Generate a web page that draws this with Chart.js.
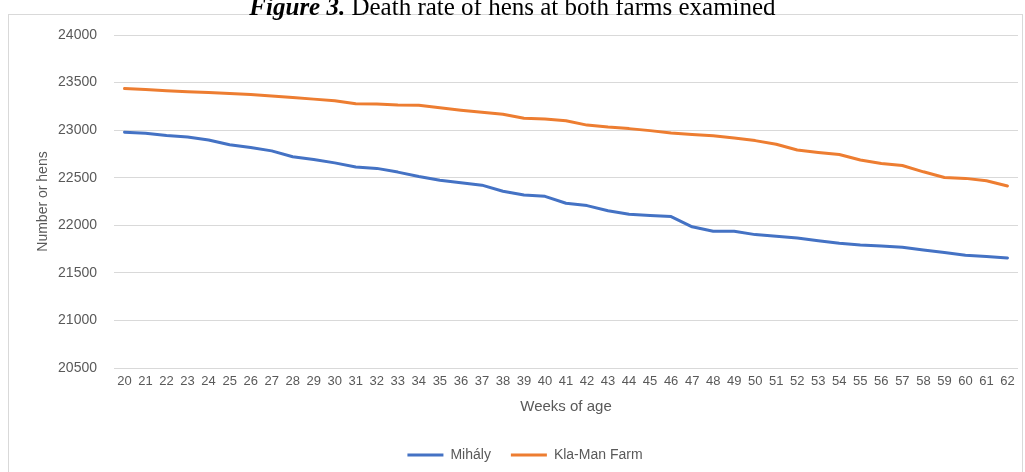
<!DOCTYPE html>
<html>
<head>
  <meta charset="UTF-8">
  <title>Death rate of hens</title>
  <script src="https://cdn.jsdelivr.net/npm/chart.js"></script>
  <style>
    body { margin: 0; width: 1025px; height: 472px; overflow: hidden; background: #fff; position: relative; }
    #box { position: absolute; left: 8px; top: 14px; width: 1013px; height: 470px; border: 1px solid #d9d9d9; }
    #wrap { position: absolute; left: 0; top: 0; width: 1025px; height: 472px; }
    #title { position: absolute; left: 0; top: -5px; width: 1025px; text-align: center;
             font: 25px/24px "Liberation Serif", serif; color: #000; z-index: 2; }
  </style>
</head>
<body>
<div id="box"></div>
<div id="title"><b><i>Figure 3.</i></b> Death rate of hens at both farms examined</div>
<div id="wrap"><canvas id="lineChart"></canvas></div>

<script>
  const weeks = ['20', '21', '22', '23', '24', '25', '26', '27', '28', '29', '30',
    '31', '32', '33', '34', '35', '36', '37', '38', '39', '40', '41', '42', '43',
    '44', '45', '46', '47', '48', '49', '50', '51', '52', '53', '54', '55', '56',
    '57', '58', '59', '60', '61', '62'];

  const mihaly = [22979, 22968, 22943, 22929, 22897, 22846, 22818, 22782, 22721, 22692,
    22656, 22613, 22598, 22559, 22512, 22473, 22448, 22422, 22358, 22318,
    22304, 22232, 22207, 22153, 22117, 22103, 22092, 21984, 21937, 21937,
    21902, 21884, 21866, 21837, 21812, 21794, 21783, 21768, 21740, 21714,
    21686, 21671, 21657];

  const klaMan = [23437, 23426, 23414, 23403, 23395, 23385, 23374, 23360, 23342, 23326,
    23310, 23278, 23275, 23264, 23261, 23236, 23210, 23188, 23168, 23125,
    23116, 23099, 23053, 23032, 23016, 22995, 22971, 22954, 22940, 22917,
    22890, 22852, 22792, 22766, 22744, 22687, 22650, 22628, 22562, 22503,
    22493, 22468, 22413];

  const grey = '#595959';

  // Excel centres the legend on the whole frame, nudge it to match
  const legendShift = {
    id: 'legendShift',
    afterLayout(chart) {
      chart.legend.left += 16;
      chart.legend.right += 16;
    }
  };

  new Chart(document.getElementById('lineChart'), {
    type: 'line',
    data: {
      labels: weeks,
      datasets: [
        {
          label: 'Mihály',
          data: mihaly,
          borderColor: '#4472C4',
          backgroundColor: '#4472C4',
          borderWidth: 3,
          pointRadius: 0,
          pointStyle: 'line',
          borderCapStyle: 'round',
          borderJoinStyle: 'round'
        },
        {
          label: 'Kla-Man Farm',
          data: klaMan,
          borderColor: '#ED7D31',
          backgroundColor: '#ED7D31',
          borderWidth: 3,
          pointRadius: 0,
          pointStyle: 'line',
          borderCapStyle: 'round',
          borderJoinStyle: 'round'
        }
      ]
    },
    options: {
      responsive: true,
      maintainAspectRatio: false,
      animation: false,
      layout: { padding: { left: 0, right: 7, top: 35, bottom: 0 } },
      plugins: {
        legend: {
          position: 'bottom',
          labels: {
            color: grey,
            font: { family: 'Liberation Sans', size: 14 },
            usePointStyle: true,
            pointStyleWidth: 36,
            padding: 20
          }
        },
        tooltip: { enabled: false }
      },
      scales: {
        x: {
          offset: true,
          grid: { display: false, drawTicks: false },
          border: { display: false },
          ticks: {
            color: grey,
            font: { family: 'Liberation Sans', size: 13 },
            autoSkip: false,
            maxRotation: 0,
            padding: 6
          },
          title: {
            display: true,
            text: 'Weeks of age',
            color: grey,
            font: { family: 'Liberation Sans', size: 15 },
            padding: { top: 0, bottom: 12 }
          },
          afterFit(scale) { scale.height = 60; }
        },
        y: {
          min: 20500,
          max: 24000,
          ticks: {
            stepSize: 500,
            color: grey,
            font: { family: 'Liberation Sans', size: 14 },
            padding: 17,
            callback: v => String(v)
          },
          grid: { color: '#d9d9d9', lineWidth: 1, drawTicks: false },
          border: { display: false },
          title: {
            display: true,
            text: 'Number or hens',
            color: grey,
            font: { family: 'Liberation Sans', size: 14 },
            padding: { top: 35, bottom: 0 }
          },
          afterFit(scale) { scale.width = 114; }
        }
      }
    },
    plugins: [legendShift]
  });
</script>
</body>
</html>
